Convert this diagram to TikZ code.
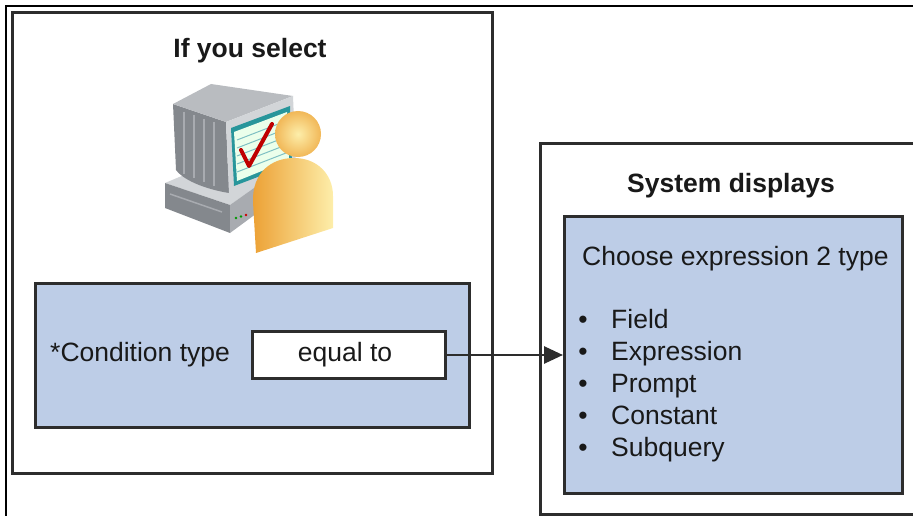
\documentclass[tikz,border=0pt]{standalone}
\usepackage{fontspec}
\setmainfont{Liberation Sans}
\usetikzlibrary{arrows.meta}
\definecolor{panelblue}{RGB}{189,205,231}
\definecolor{edge}{RGB}{45,45,45}
\definecolor{ink}{RGB}{25,25,25}
\definecolor{metaldark}{RGB}{132,136,141}
\definecolor{metalmid}{RGB}{168,171,176}
\definecolor{metallight}{RGB}{210,213,216}
\definecolor{screenteal}{RGB}{40,150,155}
\definecolor{skinlight}{RGB}{253,238,170}
\definecolor{skindark}{RGB}{236,160,52}
\begin{document}
\begin{tikzpicture}[x=1pt,y=-1pt,
  frame/.style={draw=edge,line width=3pt},
  panel/.style={frame,fill=panelblue},
  txt/.style={font=\fontsize{26.5}{30}\selectfont,text=ink,inner sep=0pt},
  heading/.style={txt,font=\fontsize{26.5}{30}\selectfont\bfseries},
  link/.style={draw=edge,line width=2.8pt,-{Triangle[length=19pt,width=17pt]}},
]
\useasboundingbox (0,0) rectangle (913,516);

% page frame (top and left rules)
\coordinate (frameTR) at (913,6);
\coordinate (frameTL) at (6,6);
\coordinate (frameBL) at (6,516);
\draw[black,line width=1.8pt] (frameTR) -- (frameTL) -- (frameBL);

% left panel
\node[frame,anchor=north west,minimum width=480pt,minimum height=461pt,inner sep=0pt] (selectbox) at (11,11) {};
\node[heading,anchor=base] (selecttitle) at (250,58) {If you select};

% right panel, open on its right side
\coordinate (dispTR) at (913,144);
\coordinate (dispTL) at (540,144);
\coordinate (dispBL) at (540,514);
\coordinate (dispBR) at (913,514);
\draw[frame] (dispTR) -- (dispTL) -- (dispBL) -- (dispBR);
\node[heading,anchor=base] (disptitle) at (731,193) {System displays};

% condition panel
\node[panel,anchor=north west,minimum width=434pt,minimum height=144pt,inner sep=0pt] (condbox) at (34,282) {};
\node[txt,anchor=base west] (condlabel) at (50,361) {*Condition type};
\node[frame,fill=white,anchor=north west,minimum width=193pt,minimum height=47pt,inner sep=0pt] (valbox) at (251,330) {};
\node[txt,anchor=base] (valtext) at (345,361) {equal to};

% expression choices panel
\node[panel,anchor=north west,minimum width=338pt,minimum height=277pt,inner sep=0pt] (choosebox) at (563,215) {};
\node[txt,anchor=base west] (choosetitle) at (582,265) {Choose expression 2 type};
\foreach \i/\word in {0/Field,1/Expression,2/Prompt,3/Constant,4/Subquery}{
  \node[txt,anchor=base] (bullet\i) at (583,328+32*\i) {•};
  \node[txt,anchor=base west] (item\i) at (611,328+32*\i) {\word};
}

% connector
\draw[link] (valbox.east) -- (valbox.east -| choosebox.west);

% user at computer icon
\begin{scope}[line join=round]
  % base unit
  \fill[metallight] (165,183) -- (196,170) -- (268,178) -- (230,205) -- cycle;
  \fill[metaldark] (165,183) -- (230,205) -- (230,233) -- (165,208) -- cycle;
  \draw[metalmid,line width=1.5pt] (170,194) -- (222,212);
  \fill[metalmid] (230,205) -- (268,178) -- (268,205) -- (230,233) -- cycle;
  \fill[green!60!black] (236,218) circle (1.3pt);
  \fill[green!60!black] (241,216.5) circle (1.3pt);
  \fill[red!80!black] (246,215) circle (1.3pt);
  % stand
  \fill[metalmid] (228,180) ellipse (24pt and 8pt);
  % monitor casing
  \fill[metaldark] (173,104) -- (226,122) -- (229,193) .. controls (210,190) and (185,182) .. (176,170) -- cycle;
  \foreach \rx in {184,194,204,214}
    \draw[metalmid,line width=1.2pt] (\rx,{108+(\rx-173)*0.34}) -- (\rx,{170+(\rx-173)*0.4});
  \fill[metalmid!80!white] (173,104) -- (211,84) -- (293,96) -- (226,122) -- cycle;
  \fill[metallight] (226,122) -- (293,96) -- (296,168) -- (229,194) -- cycle;
  % screen
  \fill[screenteal] (231,128) -- (290,106) -- (292,164) -- (234,186) -- cycle;
  \fill[green!8!white] (234,132) -- (287,112) -- (289,160) -- (237,181) -- cycle;
  \foreach \ly in {0,1,2,3,4}
    \draw[screenteal!60!white,line width=1pt] (237,{140+8*\ly}) -- (286,{121+8*\ly});
  \draw[red!75!black,line width=4pt,line cap=round] (241,150) -- (249,166) -- (272,124);
  % person
  \shade[left color=skindark,right color=skinlight]
    (256,253) -- (253,202) .. controls (252,172) and (272,158) .. (294,158)
    .. controls (317,158) and (333,174) .. (333,196) -- (333,228) -- cycle;
  \shade[inner color=skinlight,outer color=skindark!70!skinlight] (298,134) circle (23pt);
\end{scope}
\end{tikzpicture}
\end{document}
